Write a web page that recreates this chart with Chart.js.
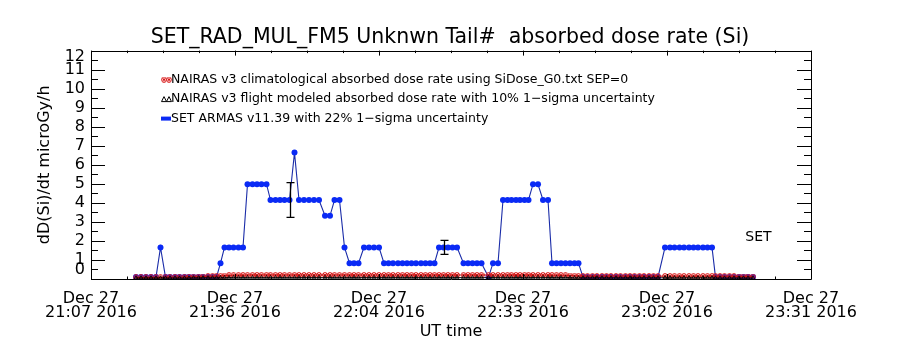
<!DOCTYPE html>
<html>
<head>
<meta charset="utf-8">
<script src="https://cdn.jsdelivr.net/npm/chart.js@4.4.1/dist/chart.umd.min.js"></script>
<style>
  html, body { margin: 0; padding: 0; background: #fff; }
  #wrap { width: 900px; height: 350px; }
</style>
</head>
<body>
<div id="wrap"><canvas id="doseChart"></canvas></div>
<script>
// minutes after the left edge of the axis (Dec 27 21:07)
const timeMin = [
    9.0, 10.0, 11.0, 12.0, 13.0, 13.9, 14.9, 15.8, 16.8, 17.7,
    18.7, 19.6, 20.5, 21.5, 22.4, 23.4, 24.3, 25.1, 25.9, 26.7,
    27.6, 28.5, 29.5, 30.4, 31.3, 32.3, 33.2, 34.1, 35.1, 35.9,
    36.9, 37.8, 38.7, 39.7, 40.7, 41.6, 42.6, 43.6, 44.6, 45.6,
    46.8, 47.8, 48.7, 49.7, 50.7, 51.7, 52.6, 53.5, 54.6, 55.6,
    56.6, 57.6, 58.6, 59.5, 60.4, 61.4, 62.3, 63.2, 64.1, 65.0,
    66.0, 66.9, 67.8, 68.7, 69.6, 70.5, 71.4, 72.3, 73.2, 74.5,
    75.4, 76.3, 77.2, 78.1, 79.5, 80.4, 81.4, 82.4, 83.3, 84.1,
    85.0, 85.8, 86.7, 87.5, 88.4, 89.4, 90.4, 91.4, 92.2, 93.1,
    94.0, 94.9, 95.8, 96.7, 97.5, 98.4, 99.3, 100.3, 101.2, 102.2,
    103.1, 104.0, 105.0, 105.9, 106.9, 107.8, 108.7, 109.7, 110.6, 111.6,
    112.5, 113.4, 114.8, 115.8, 116.7, 117.7, 118.6, 119.6, 120.5, 121.4,
    122.4, 123.3, 124.2, 124.9, 125.8, 126.7, 127.7, 128.6, 129.6, 130.5,
    131.4, 132.4
];

// SET ARMAS v11.39 (microGy/h)
const armasDose = [
    0.1, 0.1, 0.1, 0.1, 0.1, 1.66, 0.1, 0.1, 0.1, 0.1,
    0.1, 0.1, 0.1, 0.1, 0.1, 0.1, 0.1, 0.1, 0.83, 1.66,
    1.66, 1.66, 1.66, 1.66, 4.98, 4.98, 4.98, 4.98, 4.98, 4.15,
    4.15, 4.15, 4.15, 4.15, 6.64, 4.15, 4.15, 4.15, 4.15, 4.15,
    3.32, 3.32, 4.15, 4.15, 1.66, 0.83, 0.83, 0.83, 1.66, 1.66,
    1.66, 1.66, 0.83, 0.83, 0.83, 0.83, 0.83, 0.83, 0.83, 0.83,
    0.83, 0.83, 0.83, 0.83, 1.66, 1.66, 1.66, 1.66, 1.66, 0.83,
    0.83, 0.83, 0.83, 0.83, 0.1, 0.83, 0.83, 4.15, 4.15, 4.15,
    4.15, 4.15, 4.15, 4.15, 4.98, 4.98, 4.15, 4.15, 0.83, 0.83,
    0.83, 0.83, 0.83, 0.83, 0.83, 0.1, 0.1, 0.1, 0.1, 0.1,
    0.1, 0.1, 0.1, 0.1, 0.1, 0.1, 0.1, 0.1, 0.1, 0.1,
    0.1, 0.1, 1.66, 1.66, 1.66, 1.66, 1.66, 1.66, 1.66, 1.66,
    1.66, 1.66, 1.66, 0.1, 0.1, 0.1, 0.1, 0.1, 0.1, 0.1,
    0.1, 0.1
];

// NAIRAS v3 climatological
const nairasClim = [
    0.08, 0.08, 0.08, 0.08, 0.08, 0.08, 0.09, 0.09, 0.1, 0.1,
    0.1, 0.11, 0.12, 0.12, 0.13, 0.14, 0.14, 0.15, 0.16, 0.18,
    0.19, 0.2, 0.2, 0.2, 0.21, 0.21, 0.21, 0.21, 0.21, 0.21,
    0.21, 0.21, 0.21, 0.21, 0.21, 0.21, 0.21, 0.21, 0.21, 0.21,
    0.21, 0.21, 0.21, 0.21, 0.21, 0.21, 0.21, 0.21, 0.21, 0.21,
    0.21, 0.21, 0.21, 0.21, 0.21, 0.21, 0.21, 0.21, 0.21, 0.21,
    0.21, 0.21, 0.21, 0.21, 0.21, 0.21, 0.21, 0.21, 0.21, 0.21,
    0.21, 0.21, 0.21, 0.21, 0.21, 0.21, 0.21, 0.21, 0.21, 0.21,
    0.21, 0.21, 0.21, 0.21, 0.21, 0.21, 0.21, 0.21, 0.2, 0.2,
    0.2, 0.19, 0.18, 0.17, 0.16, 0.15, 0.15, 0.15, 0.15, 0.15,
    0.15, 0.15, 0.15, 0.15, 0.15, 0.15, 0.15, 0.15, 0.15, 0.15,
    0.15, 0.15, 0.15, 0.15, 0.15, 0.15, 0.15, 0.15, 0.15, 0.15,
    0.15, 0.15, 0.15, 0.14, 0.14, 0.14, 0.14, 0.14, 0.13, 0.13,
    0.13, 0.12
];

// NAIRAS v3 flight modeled
const nairasFlight = [
    0.05, 0.05, 0.05, 0.05, 0.05, 0.05, 0.05, 0.05, 0.05, 0.05,
    0.05, 0.05, 0.06, 0.06, 0.06, 0.06, 0.06, 0.06, 0.07, 0.07,
    0.07, 0.07, 0.07, 0.07, 0.07, 0.07, 0.07, 0.07, 0.07, 0.07,
    0.07, 0.07, 0.07, 0.07, 0.07, 0.07, 0.07, 0.07, 0.07, 0.07,
    0.07, 0.07, 0.07, 0.07, 0.07, 0.07, 0.07, 0.07, 0.07, 0.07,
    0.07, 0.07, 0.07, 0.07, 0.07, 0.07, 0.07, 0.07, 0.07, 0.07,
    0.07, 0.07, 0.07, 0.07, 0.07, 0.07, 0.07, 0.07, 0.07, 0.07,
    0.07, 0.07, 0.07, 0.07, 0.07, 0.07, 0.07, 0.07, 0.07, 0.07,
    0.07, 0.07, 0.07, 0.07, 0.07, 0.07, 0.07, 0.07, 0.07, 0.07,
    0.07, 0.07, 0.07, 0.06, 0.06, 0.06, 0.06, 0.06, 0.06, 0.06,
    0.06, 0.06, 0.06, 0.06, 0.06, 0.06, 0.06, 0.06, 0.06, 0.06,
    0.06, 0.06, 0.06, 0.06, 0.06, 0.06, 0.06, 0.06, 0.06, 0.06,
    0.06, 0.06, 0.06, 0.05, 0.05, 0.05, 0.05, 0.05, 0.05, 0.05,
    0.05, 0.05
];

// ARMAS points that carry the 22% 1-sigma bar
const errorIdx = [33, 65];
const armasSigma = 0.22;

const xTickValues = [0, 28.8, 57.6, 86.4, 115.2, 144];
const xTickLabels = [
    ['Dec 27', '21:07 2016'],
    ['Dec 27', '21:36 2016'],
    ['Dec 27', '22:04 2016'],
    ['Dec 27', '22:33 2016'],
    ['Dec 27', '23:02 2016'],
    ['Dec 27', '23:31 2016']
];
const yTickValues = [0, 1, 2, 3, 4, 5, 6, 7, 8, 9, 10, 11, 12];

const legendLabels = [
    'NAIRAS v3 climatological absorbed dose rate using SiDose_G0.txt SEP=0',
    'NAIRAS v3 flight modeled absorbed dose rate with 10% 1\u2212sigma uncertainty',
    'SET ARMAS v11.39 with 22% 1\u2212sigma uncertainty'
];

const FONT = "'DejaVu Sans', sans-serif";

// little circled-x marker like the IDL one
const climMarker = document.createElement('canvas');
climMarker.width = 6;
climMarker.height = 6;
(function () {
    const c = climMarker.getContext('2d');
    c.strokeStyle = '#d81818';
    c.lineWidth = 1;
    c.beginPath();
    c.arc(3, 3, 2.4, 0, Math.PI * 2);
    c.moveTo(1, 1); c.lineTo(5, 5);
    c.moveTo(5, 1); c.lineTo(1, 5);
    c.stroke();
})();

const toPoints = (vals) => vals.map((v, i) => ({ x: timeMin[i], y: v }));

// box, inward ticks and y labels the IDL way
const idlAxes = {
    id: 'idlAxes',
    afterDatasetsDraw(chart) {
        const { ctx, chartArea: a, scales: { x, y } } = chart;
        ctx.save();
        ctx.strokeStyle = '#000';
        ctx.lineWidth = 1;
        ctx.beginPath();
        ctx.rect(Math.round(a.left) + 0.5, Math.round(a.top) + 0.5,
            Math.round(a.right) - Math.round(a.left), Math.round(a.bottom) - Math.round(a.top));
        // x ticks: 3 minors between majors
        for (let k = 0; k <= 20; k++) {
            const px = Math.round(x.getPixelForValue(k * 7.2)) + 0.5;
            const len = k % 4 === 0 ? 5 : 2.5;
            ctx.moveTo(px, a.bottom); ctx.lineTo(px, a.bottom - len);
            ctx.moveTo(px, a.top); ctx.lineTo(px, a.top + len);
        }
        // y ticks: major each unit, minor each half
        for (let k = 0; k <= 24; k++) {
            const py = Math.round(y.getPixelForValue(k / 2)) + 0.5;
            const len = k % 2 === 0 ? 14 : 7;
            ctx.moveTo(a.left, py); ctx.lineTo(a.left + len, py);
            ctx.moveTo(a.right, py); ctx.lineTo(a.right - len, py);
        }
        ctx.stroke();

        ctx.fillStyle = '#000';
        ctx.font = '16px ' + FONT;
        ctx.textAlign = 'right';
        ctx.textBaseline = 'middle';
        yTickValues.forEach(v => {
            let py = y.getPixelForValue(v);
            py = Math.min(Math.max(py, a.top + 6), a.bottom - 9);
            ctx.fillText(String(v), a.left - 6, py);
        });

        // error bars
        ctx.beginPath();
        ctx.lineWidth = 1.3;
        errorIdx.forEach(i => {
            const px = Math.round(x.getPixelForValue(timeMin[i])) + 0.5;
            const hi = y.getPixelForValue(armasDose[i] * (1 + armasSigma));
            const lo = y.getPixelForValue(armasDose[i] * (1 - armasSigma));
            ctx.moveTo(px, hi); ctx.lineTo(px, lo);
            ctx.moveTo(px - 4, hi); ctx.lineTo(px + 4, hi);
            ctx.moveTo(px - 4, lo); ctx.lineTo(px + 4, lo);
        });
        ctx.stroke();

        // in-plot legend
        ctx.font = '12.5px ' + FONT;
        ctx.textAlign = 'left';
        ctx.textBaseline = 'middle';
        const lx = a.left + 71, ly = a.top + 29, step = 19.5;
        legendLabels.forEach((t, i) => ctx.fillText(t, lx + 9, ly + i * step));
        ctx.drawImage(climMarker, lx - 1, ly - 3);
        ctx.drawImage(climMarker, lx + 4, ly - 3);
        ctx.lineWidth = 1;
        ctx.strokeStyle = '#000';
        ctx.beginPath();
        [lx + 2, lx + 7].forEach(cx => {
            ctx.moveTo(cx - 2.5, ly + step + 2.5);
            ctx.lineTo(cx, ly + step - 2.5);
            ctx.lineTo(cx + 2.5, ly + step + 2.5);
            ctx.closePath();
        });
        ctx.stroke();
        ctx.fillStyle = '#0a2af5';
        ctx.fillRect(lx - 1, ly + 2 * step - 2, 10, 4);

        // instrument tag
        ctx.fillStyle = '#000';
        ctx.font = '14px ' + FONT;
        ctx.textAlign = 'center';
        ctx.fillText('SET', x.getPixelForValue(133.5), y.getPixelForValue(2.2));
        ctx.restore();
    }
};

const ctx = document.getElementById('doseChart').getContext('2d');
const doseChart = new Chart(ctx, {
    type: 'line',
    data: {
        datasets: [{
            label: 'SET ARMAS',
            data: toPoints(armasDose),
            borderColor: '#1a2ca8',
            borderWidth: 1.1,
            pointRadius: 3,
            pointBackgroundColor: '#0a2af5',
            pointBorderWidth: 0,
            order: 3
        },
        {
            label: 'NAIRAS climatological',
            data: toPoints(nairasClim),
            borderColor: '#a00000',
            borderWidth: 1,
            pointStyle: climMarker,
            order: 2
        },
        {
            label: 'NAIRAS flight',
            data: toPoints(nairasFlight),
            borderColor: '#000',
            borderWidth: 1,
            pointStyle: 'triangle',
            pointRadius: 2.2,
            pointBorderColor: '#000',
            pointBackgroundColor: 'rgba(0,0,0,0)',
            pointBorderWidth: 0.8,
            order: 1
        }]
    },
    options: {
        responsive: true,
        maintainAspectRatio: false,
        animation: false,
        layout: {
            padding: 0
        },
        scales: {
            x: {
                type: 'linear',
                min: 0,
                max: 144,
                afterFit: (scale) => { scale.height = 71; },
                afterBuildTicks: (scale) => {
                    scale.ticks = xTickValues.map(v => ({ value: v }));
                },
                grid: { display: false },
                border: { display: false },
                ticks: {
                    autoSkip: false,
                    maxRotation: 0,
                    minRotation: 0,
                    padding: 5,
                    color: '#000',
                    font: { family: FONT, size: 16, lineHeight: 0.85 },
                    callback: (v, i) => xTickLabels[i]
                },
                title: {
                    display: true,
                    text: 'UT time',
                    color: '#000',
                    font: { family: FONT, size: 16 },
                    padding: { top: 0, bottom: 9 }
                }
            },
            y: {
                min: 0,
                max: 12,
                afterFit: (scale) => { scale.width = 91; },
                grid: { display: false },
                border: { display: false },
                ticks: { display: false },
                title: {
                    display: true,
                    text: 'dD(Si)/dt microGy/h',
                    color: '#000',
                    font: { family: FONT, size: 16 },
                    padding: { top: 35, bottom: 0 }
                }
            },
            yRight: {
                axis: 'y',
                position: 'right',
                min: 0,
                max: 12,
                afterFit: (scale) => { scale.width = 89; },
                grid: { display: false },
                border: { display: false },
                ticks: { display: false }
            }
        },
        plugins: {
            legend: { display: false },
            tooltip: { enabled: false },
            title: {
                display: true,
                text: 'SET_RAD_MUL_FM5 Unknwn Tail#  absorbed dose rate (Si)',
                color: '#000',
                font: { family: FONT, size: 20.5, weight: 'normal' },
                padding: { top: 25, bottom: 1 }
            }
        }
    },
    plugins: [idlAxes]
});
</script>
</body>
</html>
